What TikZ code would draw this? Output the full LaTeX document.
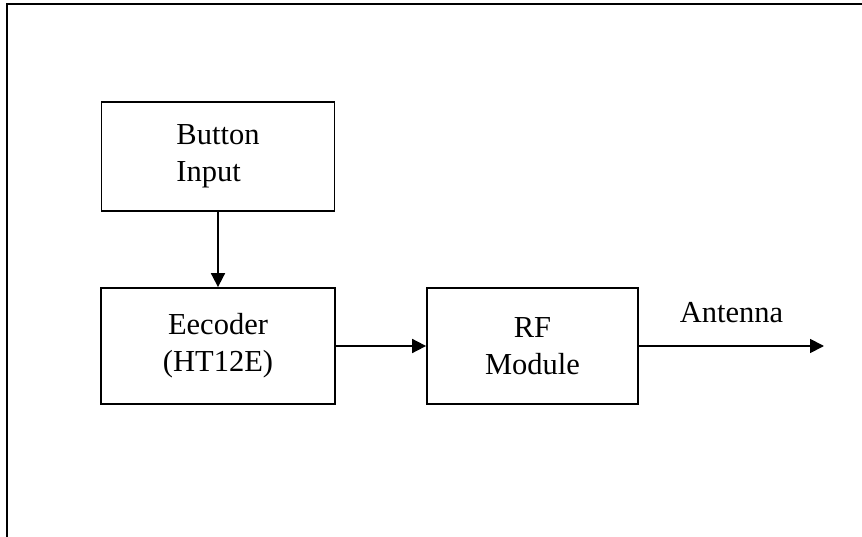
\documentclass[tikz,border=0pt]{standalone}
\usepackage{fontspec}
\setmainfont{Liberation Serif}
\usetikzlibrary{arrows.meta}

\begin{document}
\begin{tikzpicture}[x=1pt,y=-1pt,
    block/.style={draw,line width=1.8pt,inner sep=0pt,align=center,
      font=\fontsize{30.5}{37}\selectfont},
    flow/.style={line width=1.8pt,-{Triangle[length=14pt,width=14pt]}}]
  \useasboundingbox (0,0) rectangle (862,537);
  \draw[line width=2pt] (7,537) -- (7,4) -- (862,4);
  \node[block,minimum width=233pt,minimum height=109pt,align=left] (btn) at (218,156.5) {Button\\Input};
  \node[block,minimum width=234pt,minimum height=116pt] (enc) at (218,346) {Eecoder\\(HT12E)};
  \node[block,minimum width=211pt,minimum height=116pt] (rf) at (532.5,346) {RF\\Module};
  \coordinate (ant) at (824,346);
  \draw[flow] (btn) -- (enc);
  \draw[flow] (enc) -- (rf);
  \draw[flow] (rf) -- node[above=22pt,inner sep=0pt,font=\fontsize{30.5}{37}\selectfont] {Antenna} (ant);
\end{tikzpicture}
\end{document}
